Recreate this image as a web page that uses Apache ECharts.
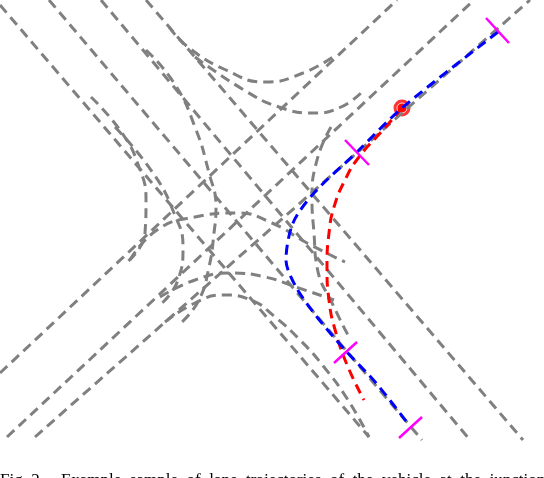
<!DOCTYPE html>
<html><head><meta charset="utf-8">
<script src="https://cdn.jsdelivr.net/npm/echarts@6/dist/echarts.min.js"></script>
<style>html,body{margin:0;padding:0;background:#fff}#c{width:544px;height:478px}</style>
</head><body><div id="c"></div>
<script>
// gray lane centerlines (image-space units)
const straightLines = [
  [[0,5],[369,437]], [[49,0],[422,440]], [[101,0],[470,440]], [[146,0],[523,440]],
  [[0,373],[397,0]], [[7,437],[474,0]], [[35,437],[530,0]]
];
const curves = [
  [[169,27],[188,47],[226,70],[265,82],[303,73],[336,55]],
  [[195,57],[244,90],[279,107],[314,113],[341,107],[362,92]],
  [[91,97],[122,133],[139,167],[146,200],[145,233],[126,263]],
  [[146,50],[174,83],[195,127],[209,173],[216,207],[214,233],[209,267],[199,300],[182,322]],
  [[115,127],[153,173],[174,213],[183,247],[178,280],[160,305]],
  [[331,127],[317,160],[312,200],[314,233],[317,267],[334,307],[348,335]],
  [[130,260],[157,230],[195,217],[237,213],[272,223],[307,243],[345,262]],
  [[160,297],[195,280],[230,273],[265,277],[296,287],[334,300]],
  [[165,322],[195,303],[223,295],[251,300],[275,317],[300,340],[324,367],[348,400],[369,437]]
];
const bluePath = [[498,32],[402,108],[357,152],[314,193],[293,223],[286,260],[296,287],[317,317],[345,350],[376,383],[409,425]];
const redPath = [[402,108],[383,130],[359,157],[345,180],[334,207],[329,233],[327,267],[329,300],[336,333],[348,367],[364,400]];
const ticks = [
  [[486,18],[509,43]], [[345,140],[369,165]], [[334,363],[357,342]], [[399,438],[422,417]]
];
const startPoint = [[402,108]];

const gray = {color:'#808080', width:3, type:[10,6]};
const series = [];
straightLines.forEach(d=>series.push({type:'line',data:d,symbol:'none',lineStyle:gray,silent:true}));
curves.forEach(d=>series.push({type:'line',data:d,symbol:'none',smooth:0.5,lineStyle:gray,silent:true}));
series.push({type:'line',data:redPath,symbol:'none',smooth:0.5,lineStyle:{color:'#ff0000',width:3,type:[10,6]}});
series.push({type:'line',data:bluePath,symbol:'none',smooth:0.3,lineStyle:{color:'#0000ff',width:3,type:[10,6]}});
ticks.forEach(d=>series.push({type:'line',data:d,symbol:'none',lineStyle:{color:'#ff00ff',width:2.5}}));
series.push({type:'scatter',data:startPoint,symbol:'circle',symbolSize:17,itemStyle:{color:'#ff0000'}});
series.push({type:'scatter',data:startPoint,symbol:'circle',symbolSize:10,itemStyle:{color:'#ff0000',borderColor:'#ffffff',borderWidth:1}});

const chart = echarts.init(document.getElementById('c'));
chart.setOption({
  animation:false,
  grid:{left:0,top:0,width:544,height:440},
  xAxis:{type:'value',min:0,max:544,show:false},
  yAxis:{type:'value',min:0,max:440,inverse:true,show:false},
  series:series,
  graphic:[{type:'text',left:0,top:472,style:{text:'Fig. 2.    Example  sample  of  lane  trajectories  of  the  vehicle  at  the  junction',font:'17px "Liberation Serif"',fill:'#000'}}]
});
</script></body></html>
